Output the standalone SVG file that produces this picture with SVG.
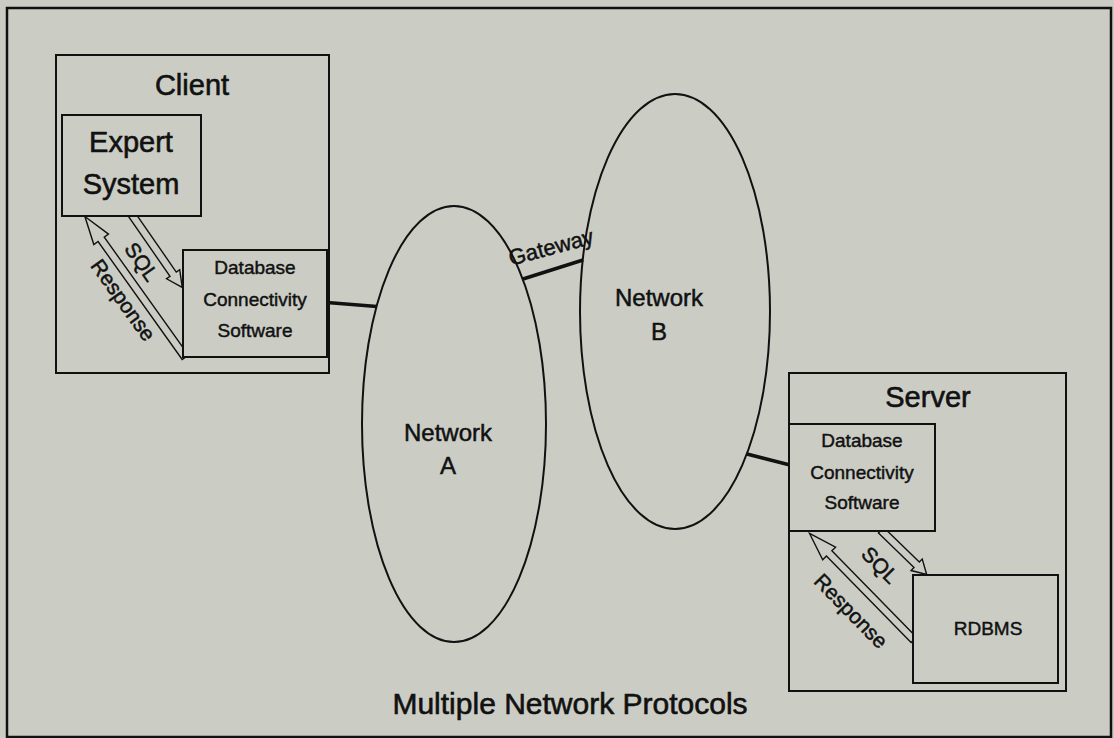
<svg xmlns="http://www.w3.org/2000/svg" width="1114" height="738" viewBox="0 0 1114 738">
  <style>
    .box { fill: #cbcdc5; stroke: #111; stroke-width: 2; }
    .frame { fill: none; stroke: #111; stroke-width: 2; }
    .ell { fill: none; stroke: #111; stroke-width: 2; }
    .link { stroke: #111; stroke-width: 3.5; fill: none; }
    .arrow { fill: #cbcdc5; stroke: #111; stroke-width: 1.4; stroke-linejoin: miter; }
    text { font-family: "Liberation Sans", Arial, Helvetica, sans-serif; fill: #111; stroke: #111; stroke-width: 0.5; text-anchor: middle; }
    .big { font-size: 29px; stroke-width: 0.6; }
    .net { font-size: 24px; }
    .small { font-size: 19px; stroke-width: 0.45; }
    .lbl { font-size: 21px; }
  </style>
  <rect x="0" y="0" width="1114" height="738" fill="#cbcdc5"/>
  <rect x="7" y="8" width="1104" height="729" fill="none" stroke="#111" stroke-width="2.5"/>

  <g id="client">
    <rect class="frame" x="56" y="55" width="273" height="318"/>
    <text class="big" x="192" y="95">Client</text>
  </g>

  <g id="server">
    <rect class="frame" x="789" y="373" width="277" height="318"/>
    <text class="big" x="928" y="407">Server</text>
  </g>

  <g id="network-a">
    <ellipse class="ell" cx="454" cy="424" rx="92" ry="218"/>
    <text class="net" x="448" y="441">Network</text>
    <text class="net" x="448" y="474">A</text>
  </g>

  <g id="network-b">
    <ellipse class="ell" cx="675" cy="311.5" rx="95" ry="217.5"/>
    <text class="net" x="659" y="306">Network</text>
    <text class="net" x="659" y="340">B</text>
  </g>

  <g id="connectors">
    <line class="link" x1="327" y1="302.5" x2="377" y2="306.5"/>
    <line class="link" x1="523" y1="279" x2="583" y2="260"/>
    <line class="link" x1="747" y1="454" x2="790" y2="465"/>
    <!-- client SQL arrow -->
    <path class="arrow" transform="translate(130.2,212.2) rotate(55.3)" d="M0,-3.8 L75.4,-3.8 L75.4,-8 L91.4,0 L75.4,8 L75.4,3.8 L0,3.8 Z"/>
    <!-- client Response arrow -->
    <path class="arrow" transform="translate(185.3,357.3) rotate(-125.5)" d="M0,-3.8 L144.9,-3.8 L144.9,-9 L172.9,0 L144.9,9 L144.9,3.8 L0,3.8 Z"/>
    <!-- server SQL arrow -->
    <path class="arrow" transform="translate(881.1,530.2) rotate(44.2)" d="M0,-3.8 L49.6,-3.8 L49.6,-8 L63.6,0 L49.6,8 L49.6,3.8 L0,3.8 Z"/>
    <!-- server Response arrow -->
    <path class="arrow" transform="translate(913.8,639.9) rotate(-134.4)" d="M0,-3.8 L121,-3.8 L121,-9 L149,0 L121,9 L121,3.8 L0,3.8 Z"/>
    <text class="lbl" transform="translate(141.7,261.7) rotate(55)" dy="0.35em">SQL</text>
    <text class="lbl" transform="translate(123.3,300) rotate(54.5)" dy="0.35em">Response</text>
    <text class="lbl" transform="translate(880,565) rotate(45)" dy="0.35em">SQL</text>
    <text class="lbl" transform="translate(851,611) rotate(45.6)" dy="0.35em">Response</text>
    <text class="lbl" transform="translate(551,247) rotate(-15)" dy="0.35em" style="font-size:22px">Gateway</text>
  </g>

  <g id="expert-system">
    <rect class="box" x="62" y="115" width="139" height="101"/>
    <text class="big" x="131" y="152">Expert</text>
    <text class="big" x="131" y="194">System</text>
  </g>

  <g id="client-dcs">
    <rect class="box" x="183" y="250" width="144" height="107"/>
    <text class="small" x="255" y="274">Database</text>
    <text class="small" x="255" y="306">Connectivity</text>
    <text class="small" x="255" y="337">Software</text>
  </g>

  <g id="server-dcs">
    <rect class="box" x="789" y="424" width="146" height="107"/>
    <text class="small" x="862" y="447">Database</text>
    <text class="small" x="862" y="479">Connectivity</text>
    <text class="small" x="862" y="509">Software</text>
  </g>

  <g id="rdbms">
    <rect class="box" x="913" y="575" width="145" height="108"/>
    <text class="small" x="988" y="635">RDBMS</text>
  </g>

  <g id="title">
    <text class="big" x="570" y="714" style="font-size:30px">Multiple Network Protocols</text>
  </g>
</svg>
